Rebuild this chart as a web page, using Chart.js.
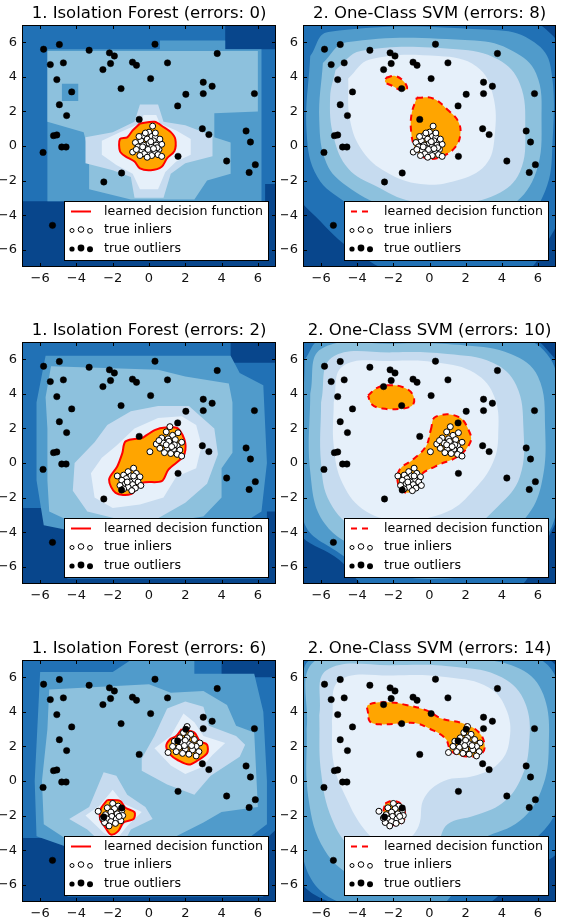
<!DOCTYPE html>
<html>
<head>
<meta charset="utf-8">
<script src="https://cdn.jsdelivr.net/npm/chart.js@4.4.1/dist/chart.umd.min.js"></script>
<style>
body { margin: 0; background: #fff; width: 563px; height: 924px; position: relative; overflow: hidden; }
.panel { position: absolute; height: 287px; }
</style>
</head>
<body>
<div class="panel" style="left:0;top:0;width:281px"><canvas id="p0"></canvas></div>
<div class="panel" style="left:281px;top:0;width:280px"><canvas id="p1"></canvas></div>
<div class="panel" style="left:0;top:317px;width:281px"><canvas id="p2"></canvas></div>
<div class="panel" style="left:281px;top:317px;width:280px"><canvas id="p3"></canvas></div>
<div class="panel" style="left:0;top:635px;width:281px"><canvas id="p4"></canvas></div>
<div class="panel" style="left:281px;top:635px;width:280px"><canvas id="p5"></canvas></div>
<script>
// data
const tickValues = [-6, -4, -2, 0, 2, 4, 6]
const panelTitles = [
    '1. Isolation Forest (errors: 0)', '2. One-Class SVM (errors: 8)',
    '1. Isolation Forest (errors: 2)', '2. One-Class SVM (errors: 10)',
    '1. Isolation Forest (errors: 6)', '2. One-Class SVM (errors: 14)'
]
const legendLabels = ['learned decision function', 'true inliers', 'true outliers']

// Blues_r levels, darkest first, then the inlier region
const bandColors = ['#08468c', '#2171b5', '#509bcb', '#8dc1dd', '#c6dbef', '#e6f0fa']
const insideColor = '#ffa500'

const outliers = [
    [-5.81, 5.6], [-4.94, 5.87], [-3.3, 5.54], [-5.44, 4.71], [-4.72, 4.81], [-5.08, 3.84],
    [-4.26, 3.13], [-4.94, 2.39], [-4.54, 1.76], [-5.26, 0.6], [-5.08, 0.64], [-4.81, -0.06],
    [-4.57, -0.06], [-5.84, -0.37], [-5.32, -4.59], [-2.18, 5.39], [-1.91, 5.21], [-2.12, 4.77],
    [-2.54, 4.42], [-0.91, 4.85], [-0.69, 4.67], [0.33, 5.89], [1.02, 4.81], [0.09, 3.9],
    [-1.54, 3.32], [-0.54, 1.54], [1.58, 2.32], [2.03, 2.99], [2.99, 3.69], [2.99, 3.03],
    [3.48, 3.46], [3.76, 5.35], [5.81, 3.03], [2.94, 1.0], [3.3, 0.66], [5.35, 0.87],
    [5.59, 0.23], [1.6, -0.6], [4.28, -0.87], [5.86, -1.08], [5.52, -1.53], [-1.51, -1.56],
    [-2.49, -2.08]
]

const inliersRow1 = [
    [0.2, 1.15], [0.0, 0.8], [-0.3, 0.6], [0.15, 0.55], [0.35, 0.5], [-0.1, 0.4], [0.25, 0.3],
    [-0.45, 0.3], [0.55, 0.25], [-0.75, 0.2], [0.0, 0.15], [0.7, 0.1], [-0.3, 0.05], [0.4, 0.05],
    [-0.6, -0.05], [0.15, -0.05], [-0.15, -0.15], [0.55, -0.2], [-0.4, -0.25], [0.3, -0.3],
    [-0.9, -0.35], [0.0, -0.35], [-0.25, -0.45], [0.5, -0.5], [0.15, -0.55], [-0.5, -0.55],
    [0.7, -0.6], [-0.1, -0.65], [0.35, 0.75], [-0.2, 0.75], [0.6, 0.4], [-0.55, 0.55],
    [0.1, 0.25], [-0.05, -0.2], [0.45, -0.1], [-0.35, -0.05], [0.25, -0.15], [-0.7, -0.2]
]
const inliersRow2 = [
    [1.15, 2.1], [0.95, 1.8], [1.3, 1.6], [1.6, 1.75], [0.7, 1.45], [1.05, 1.4], [1.45, 1.35],
    [1.8, 1.2], [0.4, 1.1], [0.8, 1.15], [1.2, 1.1], [1.55, 1.0], [0.6, 0.85], [1.0, 0.85],
    [1.35, 0.8], [1.7, 0.75], [0.85, 0.6], [1.2, 0.55], [1.55, 0.5], [1.8, 0.4], [1.1, 1.25],
    [0.55, 1.3], [1.4, 1.05], [0.95, 1.05], [1.25, 0.95], [0.05, 0.65],
    [-0.85, -0.3], [-1.15, -0.5], [-0.7, -0.6], [-1.4, -0.7], [-1.0, -0.75], [-0.5, -0.8],
    [-1.75, -0.75], [-1.25, -0.9], [-0.8, -0.95], [-1.5, -1.0], [-1.05, -1.1], [-0.6, -1.1],
    [-1.3, -1.2], [-0.9, -1.25], [-0.45, -1.3], [-1.6, -1.3], [-1.15, -1.4], [-0.75, -1.45],
    [-1.4, -1.5], [-0.95, -1.6], [-1.2, -1.1], [-0.85, -0.75]
]
const inliersRow3 = [
    [2.1, 3.15], [1.9, 2.8], [2.3, 2.7], [1.7, 2.5], [2.1, 2.5], [2.5, 2.4], [2.8, 2.2],
    [1.4, 2.3], [1.8, 2.2], [2.2, 2.15], [2.6, 2.0], [1.3, 2.0], [1.65, 1.95], [2.0, 1.85],
    [2.4, 1.8], [2.75, 1.7], [1.5, 1.7], [1.85, 1.6], [2.2, 1.55], [2.6, 1.45], [1.05, 1.65],
    [2.0, 2.35], [2.35, 2.05], [1.95, 2.05],
    [-2.0, -1.3], [-1.7, -1.45], [-2.3, -1.55], [-1.9, -1.6], [-1.5, -1.7], [-2.8, -1.75],
    [-2.1, -1.8], [-1.75, -1.9], [-2.4, -1.95], [-1.45, -2.0], [-2.05, -2.05], [-1.8, -2.2],
    [-2.3, -2.2], [-1.55, -2.3], [-2.1, -2.35], [-2.45, -2.4], [-1.85, -2.45], [-2.2, -2.6],
    [-1.65, -2.05], [-2.55, -2.15]
]

// decision function bands: [colour level, outline], listed in painting order
const plotFrame = [[-7, -7], [7, -7], [7, 7], [-7, 7]]

const ifRow1Bands = [
    [1, [[-7, 7], [4.2, 7], [4.2, 5.6], [7, 5.6], [7, -2.2], [6.4, -2.2], [6.4, -6.6], [-4, -6.6], [-4, -3.2], [-7, -3.2]]],
    [2, [[-5.6, 5.6], [0.6, 5.6], [0.6, 6.1], [4.2, 6.1], [4.2, 5.6], [6.2, 5.6], [6.2, -3.2], [-5.6, -3.2]]],
    [3, [[-5.6, 5.5], [6.0, 5.5], [6.0, 2.0], [3.6, 1.9], [3.6, 0.5], [4.5, 0.2], [4.5, -1.6], [3.2, -2.0], [2.5, -3.1], [-1.0, -3.1], [-3.3, -2.5], [-3.3, -0.5], [-3.6, 0.8], [-5.6, 1.4]]],
    [2, [[-4.8, 3.6], [-3.9, 3.6], [-3.9, 2.6], [-4.8, 2.6]]],
    [4, [[-0.5, 2.4], [0.5, 2.4], [0.8, 1.4], [2.0, 1.2], [3.5, 0.6], [3.5, -0.6], [2.0, -1.0], [1.2, -1.6], [0.8, -3.0], [-0.8, -3.0], [-1.0, -1.8], [-2.0, -1.4], [-3.5, -1.0], [-3.5, 0.5], [-2.0, 0.8], [-0.8, 1.4]]],
    [5, [[-0.3, 1.8], [0.4, 1.8], [0.6, 1.3], [1.5, 0.9], [2.3, 0.4], [2.3, -0.5], [1.5, -0.9], [0.9, -1.5], [0.5, -2.5], [-0.5, -2.5], [-0.9, -1.6], [-1.8, -1.1], [-2.6, -0.5], [-2.6, 0.3], [-1.6, 0.8], [-0.5, 1.3]]]
]
const ifRow1Inside = [
    [[-0.5, 1.3], [0.3, 1.4], [0.8, 1.1], [1.2, 0.8], [1.45, 0.4], [1.4, -0.3], [1.0, -0.7], [0.7, -1.2], [0.1, -1.4], [-0.5, -1.3], [-0.8, -0.9], [-1.3, -0.6], [-1.6, -0.3], [-1.6, 0.4], [-1.2, 0.5], [-0.9, 0.9]]
]

const svmRow1Bands = [
    [1, [[-7.4, 5.8], [-6.4, 7.4], [5, 7.4], [6.8, 6.4], [7.4, 4.8], [7.4, -3.2], [6.6, -5.4], [5.0, -7.4], [-1.5, -7.4], [-4.0, -6.2], [-6.0, -4.4], [-7.4, -2.4]]],
    [2, [[-6.6, 5.2], [-5.6, 6.6], [3.8, 6.7], [5.8, 6.0], [6.7, 4.6], [6.8, 0.0], [6.4, -2.6], [5.0, -4.6], [2.8, -5.6], [0.0, -5.6], [-2.6, -4.6], [-4.6, -3.3], [-6.2, -1.8], [-6.8, 0.8]]],
    [3, [[-5.9, 4.8], [-4.6, 6.0], [2.5, 6.1], [4.6, 5.5], [5.9, 4.2], [6.2, 1.5], [5.9, -1.5], [4.6, -3.4], [2.5, -4.3], [0.0, -4.3], [-2.5, -3.5], [-4.6, -2.3], [-5.7, -1.0], [-6.1, 1.5]]],
    [4, [[-5.2, 4.4], [-3.8, 5.5], [1.5, 5.6], [3.8, 5.0], [5.0, 3.6], [5.3, 1.0], [5.0, -1.5], [3.7, -2.8], [1.5, -3.3], [-1.0, -3.2], [-3.0, -2.3], [-4.5, -1.3], [-5.3, 0.5], [-5.5, 2.8]]],
    [5, [[-4.5, 3.9], [-3.3, 5.0], [0.5, 5.2], [2.6, 4.6], [3.5, 3.0], [3.6, 0.5], [3.1, -1.1], [1.5, -2.0], [-0.5, -2.2], [-2.4, -1.5], [-3.7, -0.3], [-4.4, 1.5]]]
]
const svmRow1Inside = [
    [[-0.7, 2.8], [0.2, 2.75], [1.0, 2.1], [1.6, 1.4], [1.7, 0.6], [1.4, -0.1], [0.8, -0.55], [0.1, -0.75], [-0.4, -0.6], [-0.8, -0.1], [-1.0, 0.7], [-1.0, 1.8]],
    [[-2.4, 3.95], [-1.9, 4.05], [-1.4, 3.7], [-1.25, 3.3], [-1.6, 3.25], [-2.1, 3.5], [-2.45, 3.7]]
]

const ifRow2Bands = [
    [1, [[-7, 7], [4.5, 7], [4.5, 5.8], [7, 5.8], [7, -2.8], [6.5, -2.8], [6.5, -6.7], [-4.5, -6.7], [-4.5, -2.6], [-7, -2.6]]],
    [2, [[-5.7, 6.2], [4.5, 6.2], [5.0, 5.2], [6.3, 4.5], [6.5, 0.0], [6.2, -2.8], [5.0, -3.6], [2.0, -4.2], [-3.0, -4.2], [-5.8, -3.6], [-6.2, -1.0], [-6.2, 3.5]]],
    [3, [[-5.4, 5.6], [0.5, 5.4], [2.0, 5.0], [4.4, 4.6], [4.6, 3.5], [4.6, 0.6], [4.0, -0.3], [4.0, -2.0], [3.0, -3.1], [1.0, -3.4], [-2.5, -3.5], [-4.5, -3.3], [-5.5, -2.8], [-5.6, -1.0], [-5.6, 2.0], [-5.7, 3.8]]],
    [4, [[-1.0, 3.0], [0.5, 3.3], [2.2, 3.3], [3.6, 2.0], [3.8, 0.5], [3.2, -1.2], [2.0, -2.3], [0.5, -3.2], [-1.5, -3.3], [-3.4, -2.8], [-4.2, -1.6], [-4.1, 0.0], [-3.0, 1.2], [-2.3, 2.2]]],
    [5, [[-0.8, 2.0], [0.5, 2.6], [1.8, 2.7], [2.6, 2.2], [2.9, 1.0], [2.6, -0.3], [1.5, -0.8], [0.8, -2.0], [-0.5, -2.4], [-2.0, -2.6], [-3.0, -2.0], [-3.2, -0.6], [-2.6, 0.3], [-1.8, 1.0]]]
]
const ifRow2Inside = [
    [[-0.38, 1.44], [0.35, 1.92], [0.9, 2.05], [1.6, 2.0], [2.0, 1.15], [1.9, 0.4], [1.07, -0.38], [0.7, -1.05], [-0.38, -1.15], [-1.0, -1.8], [-1.84, -1.73], [-2.2, -0.96], [-1.75, -0.2], [-1.47, 0.57], [-1.29, 1.25]]
]

const svmRow2Bands = [
    [1, [[-7.4, 5.8], [-6.4, 7.4], [5.2, 7.4], [6.8, 6.2], [7.4, 4.8], [7.4, -1.9], [6.2, -5.0], [4.5, -7.4], [-3.0, -7.4], [-5.0, -5.6], [-7.4, -3.6]]],
    [2, [[-6.9, 6.0], [-6.0, 7.1], [5.0, 7.2], [6.5, 6.3], [7.1, 4.5], [7.1, -2.0], [6.5, -4.2], [5.0, -5.6], [2.0, -6.6], [-2.5, -6.4], [-5.0, -5.2], [-7.0, -3.2]]],
    [3, [[-6.6, 4.0], [-6.0, 6.6], [-2.0, 6.9], [2.0, 6.8], [4.5, 6.3], [6.0, 5.0], [6.4, 2.0], [6.2, -1.2], [5.3, -3.2], [3.5, -4.7], [0.0, -5.4], [-3.5, -5.0], [-5.8, -3.5], [-6.6, -0.5]]],
    [4, [[-6.0, 3.5], [-5.4, 6.1], [-2.0, 6.4], [1.0, 6.3], [3.5, 5.8], [4.8, 4.5], [5.2, 2.0], [5.0, -0.8], [3.8, -2.5], [2.0, -3.9], [-1.0, -4.3], [-4.0, -3.8], [-5.5, -2.3], [-6.0, 0.0]]],
    [5, [[-5.3, 3.5], [-4.8, 5.6], [-2.0, 5.9], [0.5, 5.8], [2.5, 5.2], [3.6, 3.8], [3.8, 1.5], [3.5, 0.0], [2.5, -1.5], [1.0, -2.8], [-1.5, -3.3], [-3.5, -2.8], [-4.8, -1.2], [-5.3, 1.0]]]
]
const svmRow2Inside = [
    [[-3.4, 3.9], [-2.9, 4.35], [-2.3, 4.5], [-1.5, 4.4], [-0.95, 4.0], [-0.9, 3.4], [-1.5, 3.15], [-2.6, 3.15], [-3.2, 3.4]],
    [[0.07, 1.9], [0.33, 2.67], [1.6, 2.67], [2.24, 1.72], [2.24, 1.15], [1.6, 0.4], [0.33, -0.19], [-0.56, -0.77], [-0.84, -1.53], [-1.38, -1.69], [-1.75, -1.15], [-1.65, -0.38], [-0.93, 0.19], [-0.2, 0.96]]
]

const ifRow3Bands = [
    [1, [[-7, 7], [4, 7], [4, 6], [7, 6], [7, -2.8], [6.3, -3.5], [6.3, -6.7], [-4.5, -6.7], [-4.5, -3.3], [-7, -3.3]]],
    [2, [[-6, 6.3], [-2, 6.3], [-1, 7], [2.5, 7], [2.5, 6.2], [5.8, 6.2], [6.3, 4], [6.5, 0], [6.5, -2.5], [5.5, -3.3], [-4, -3.3], [-4, -4], [-6.2, -3.2], [-6.3, 0]]],
    [3, [[-5.5, 5.3], [0, 5.6], [1.2, 5.1], [3, 5.2], [4.3, 4.4], [4.8, 3.2], [5.8, 2.8], [6, -1.5], [4, -1.8], [3, -2.4], [1.5, -3.2], [-0.5, -3.4], [-2, -4.2], [-4.5, -3.4], [-5.8, -2.5], [-5.9, 0], [-5.6, 3]]],
    [4, [[1, 4.2], [2, 4.6], [3, 4.3], [3.3, 3.2], [4.8, 2.6], [5.3, 2.1], [5, 1.4], [3.4, 0.3], [2.5, -0.8], [1, -0.2], [-0.4, 0.6], [-0.4, 1.3], [0.3, 2.6]]],
    [4, [[-2.5, 0.5], [-1.8, 0.3], [-1.2, -0.8], [-0.2, -1.5], [0.2, -2.2], [-1, -2.8], [-1.4, -3.6], [-2.6, -3.6], [-3.4, -2.8], [-4.4, -2.2], [-3.3, -1.5]]],
    [5, [[1.9, 3.9], [2.5, 3.4], [3, 2.6], [4.2, 2.2], [3.5, 1.5], [2.9, 0.8], [2.0, 0.4], [1.2, 0.9], [0.3, 1.9], [1.2, 2.6]]],
    [5, [[-2, -0.5], [-1.4, -1.3], [-0.4, -1.8], [-1.2, -2.6], [-1.8, -3.4], [-2.5, -3.0], [-3.5, -2.0], [-2.7, -1.4]]]
]
const ifRow3Inside = [
    [[1.8, 3.0], [2.5, 2.8], [2.8, 2.3], [3.2, 2.1], [3.2, 1.6], [2.7, 1.2], [2.2, 0.95], [1.6, 1.2], [1.2, 1.5], [0.95, 2.0], [1.15, 2.4], [1.5, 2.6]],
    [[-2.3, -1.1], [-1.6, -1.15], [-1.3, -1.55], [-0.8, -1.8], [-0.85, -2.2], [-1.4, -2.4], [-1.7, -2.9], [-2.1, -3.1], [-2.4, -2.7], [-2.7, -2.2], [-2.65, -1.6]]
]

const svmRow3Bands = [
    [1, [[-7.4, 5.6], [-6.4, 7.4], [5.6, 7.4], [7.4, 5.8], [7.4, -3.5], [5.0, -5.5], [2.5, -7.4], [-4.0, -7.4], [-7.4, -5.2]]],
    [2, [[-7.0, 4.0], [-6.4, 7.1], [5.5, 7.2], [7.0, 6.0], [7.3, 3.0], [7.2, -1.0], [6.2, -3.0], [4.0, -4.5], [2.0, -5.5], [0.5, -7.2], [-5.0, -7.0], [-7.0, -4.4]]],
    [3, [[-6.8, 3.0], [-6.4, 6.9], [-2.0, 7.2], [2.0, 7.1], [5.0, 6.5], [6.3, 5.0], [6.6, 2.0], [6.2, -0.5], [5.0, -2.3], [3.0, -3.3], [1.5, -4.2], [0.5, -5.5], [-1.5, -6.0], [-4.0, -5.6], [-5.8, -4.0], [-6.7, -1.0]]],
    [4, [[-6.1, 3.8], [-5.7, 6.4], [-2.0, 6.7], [1.5, 6.6], [4.0, 6.0], [5.3, 4.5], [5.5, 2.0], [5.0, 0.0], [4.0, -1.3], [2.5, -2.0], [1.0, -2.5], [0.4, -3.6], [-0.8, -4.5], [-2.8, -4.7], [-4.3, -3.9], [-5.4, -2.2], [-6.0, 0.5]]],
    [5, [[-5.4, 3.5], [-5.0, 5.8], [-2.0, 6.1], [1.0, 6.0], [3.3, 5.4], [4.3, 4.0], [4.4, 2.2], [3.8, 1.0], [2.5, 0.3], [0.8, 0.0], [-0.3, -1.0], [-0.6, -2.6], [-1.3, -3.4], [-2.7, -3.5], [-3.6, -2.8], [-4.6, -1.0], [-5.3, 1.0]]]
]
const svmRow3Inside = [
    [[-3.4, 3.9], [-3.4, 4.4], [-2.2, 4.55], [-1.3, 4.4], [-0.2, 4.1], [0.7, 3.6], [1.8, 3.35], [2.7, 2.85], [3.05, 2.1], [2.9, 1.6], [2.3, 1.4], [1.24, 1.7], [0.87, 2.47], [-0.04, 3.05], [-0.76, 3.34], [-1.5, 3.34], [-2.76, 3.28], [-3.3, 3.44]],
    [[-2.45, -1.3], [-2.05, -1.15], [-1.55, -1.35], [-1.35, -1.9], [-1.5, -2.4], [-2.0, -2.55], [-2.45, -2.3], [-2.55, -1.8]]
]

const toXY = pts => pts.map(p => ({ x: p[0], y: p[1] }))
const closed = pts => toXY(pts.concat([pts[0]]))
const fmtTick = v => v < 0 ? '\u2212' + (-v) : String(v)
const font = 'DejaVu Sans'

function shape(pts, color, order, smooth) {
    return {
        data: closed(pts),
        showLine: true,
        fill: 'shape',
        backgroundColor: color,
        borderColor: 'transparent',
        borderWidth: 0,
        pointRadius: 0,
        tension: smooth ? 0.4 : 0,
        capBezierPoints: false,
        clip: 0,
        order: order
    }
}

const frame = {
    id: 'frame',
    afterDatasetsDraw(chart) {
        const { ctx, chartArea: a, scales: { x, y } } = chart
        ctx.save()
        ctx.strokeStyle = '#000'
        ctx.lineWidth = 1
        ctx.strokeRect(a.left + 0.5, a.top + 0.5, a.width - 1, a.height - 1)
        ctx.beginPath()
        tickValues.forEach(v => {
            const px = Math.round(x.getPixelForValue(v)) + 0.5
            const py = Math.round(y.getPixelForValue(v)) + 0.5
            ctx.moveTo(px, a.bottom); ctx.lineTo(px, a.bottom - 4)
            ctx.moveTo(px, a.top); ctx.lineTo(px, a.top + 4)
            ctx.moveTo(a.left, py); ctx.lineTo(a.left + 4, py)
            ctx.moveTo(a.right, py); ctx.lineTo(a.right - 4, py)
        })
        ctx.stroke()
        ctx.restore()
    }
}

const legendBox = {
    id: 'legendBox',
    afterDraw(chart, args, opts) {
        const { ctx, chartArea: a } = chart
        const w = 204, h = 59
        const bx = Math.round(a.right - 8 - w), by = Math.round(a.bottom - 7 - h)
        ctx.save()
        ctx.fillStyle = '#fff'
        ctx.fillRect(bx, by, w, h)
        ctx.strokeStyle = '#000'
        ctx.lineWidth = 1
        ctx.strokeRect(bx + 0.5, by + 0.5, w, h)
        const rows = [by + 10.5, by + 29, by + 47.5]
        ctx.strokeStyle = 'red'
        ctx.lineWidth = 2
        ctx.setLineDash(opts.dashed ? [6, 5] : [])
        ctx.beginPath()
        ctx.moveTo(bx + 7, rows[0]); ctx.lineTo(bx + 27, rows[0])
        ctx.stroke()
        ctx.setLineDash([])
        const marks = [[8, 0.5, 2.0], [17, -0.5, 2.8], [26, 0.8, 2.4]]
        marks.forEach(m => {
            ctx.lineWidth = 1
            ctx.strokeStyle = '#000'
            ctx.fillStyle = '#fff'
            ctx.beginPath(); ctx.arc(bx + m[0], rows[1] + m[1], m[2], 0, Math.PI * 2); ctx.fill(); ctx.stroke()
            ctx.fillStyle = '#000'
            ctx.beginPath(); ctx.arc(bx + m[0], rows[2] + m[1], m[2] + 0.6, 0, Math.PI * 2); ctx.fill()
        })
        ctx.fillStyle = '#000'
        ctx.font = '12.6px "' + font + '"'
        ctx.textBaseline = 'middle'
        legendLabels.forEach((t, i) => ctx.fillText(t, bx + 40, rows[i]))
        ctx.restore()
    }
}

const panels = [
    { id: 'p0', bands: ifRow1Bands, inside: ifRow1Inside, inliers: inliersRow1, svm: false },
    { id: 'p1', bands: svmRow1Bands, inside: svmRow1Inside, inliers: inliersRow1, svm: true },
    { id: 'p2', bands: ifRow2Bands, inside: ifRow2Inside, inliers: inliersRow2, svm: false },
    { id: 'p3', bands: svmRow2Bands, inside: svmRow2Inside, inliers: inliersRow2, svm: true },
    { id: 'p4', bands: ifRow3Bands, inside: ifRow3Inside, inliers: inliersRow3, svm: false },
    { id: 'p5', bands: svmRow3Bands, inside: svmRow3Inside, inliers: inliersRow3, svm: true }
]

panels.forEach((p, k) => {
    const datasets = [shape(plotFrame, bandColors[0], 200, false)]
    p.bands.forEach((b, i) => datasets.push(shape(b[1], bandColors[b[0]], 150 - i, p.svm)))
    p.inside.forEach(pts => {
        const d = shape(pts, insideColor, 50, true)
        d.borderColor = 'red'
        d.borderWidth = 2
        d.borderDash = p.svm ? [6, 5] : []
        d.tension = p.svm ? 0.4 : 0.3
        datasets.push(d)
    })
    datasets.push({
        data: toXY(p.inliers), pointRadius: 3, backgroundColor: '#fff',
        borderColor: '#000', borderWidth: 1, order: 2
    })
    datasets.push({
        data: toXY(outliers), pointRadius: 3.2, backgroundColor: '#000',
        borderColor: '#000', borderWidth: 0.5, order: 1
    })

    const axis = (isX) => ({
        type: 'linear', min: -7, max: 7,
        grid: { display: false, drawTicks: false },
        border: { display: false },
        afterBuildTicks: s => { s.ticks = tickValues.map(v => ({ value: v })) },
        afterFit: s => { if (isX) s.height = 20; else s.width = 22 },
        ticks: {
            padding: isX ? 4 : 5, color: '#111', autoSkip: false, maxRotation: 0,
            font: { family: font, size: 13 }, callback: fmtTick
        }
    })

    new Chart(document.getElementById(p.id), {
        type: 'scatter',
        data: { datasets: datasets },
        options: {
            animation: false,
            responsive: true,
            maintainAspectRatio: false,
            events: [],
            layout: { padding: { left: 0, right: 2, top: 0, bottom: 0 } },
            scales: { x: axis(true), y: axis(false) },
            plugins: {
                legend: { display: false },
                tooltip: { enabled: false },
                title: {
                    display: true, text: panelTitles[k], color: '#000', fullSize: false,
                    font: { family: font, size: 16.5, weight: 'normal' },
                    padding: { top: 3.8, bottom: 1.4 }
                },
                legendBox: { dashed: p.svm }
            }
        },
        plugins: [frame, legendBox]
    })
})
</script>
</body>
</html>
